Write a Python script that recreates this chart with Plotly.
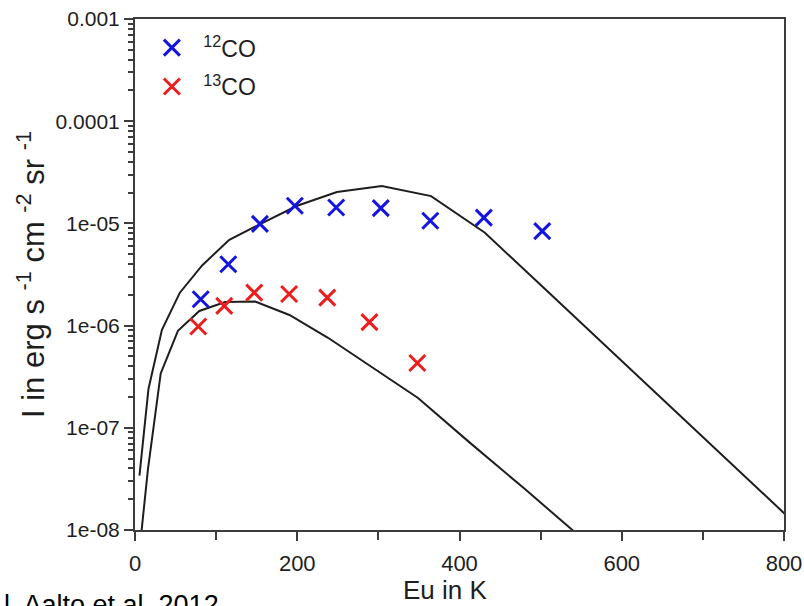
import plotly.graph_objects as go

# Observed line intensities (Eu in K, I in erg s^-1 cm^-2 sr^-1)
eu_12co = [81, 115, 154, 197, 248, 303, 364, 430, 502]
i_12co = [1.81e-6, 3.98e-6, 9.9e-6, 1.49e-5, 1.43e-5, 1.41e-5, 1.06e-5, 1.14e-5, 8.4e-6]

eu_13co = [78, 110, 147, 190, 237, 289, 348]
i_13co = [9.8e-7, 1.56e-6, 2.1e-6, 2.04e-6, 1.88e-6, 1.08e-6, 4.3e-7]

# Model ladders evaluated at the rotational level energies
eu_model_12 = [5.5, 16.6, 33.2, 55.3, 83.0, 116.2, 154.9, 199.1, 248.9, 304.2,
               365.0, 431.3, 503.1, 580.5, 663.4, 751.8, 845.6]
i_model_12 = [3.4e-8, 2.4e-7, 9.1e-7, 2.1e-6, 3.9e-6, 6.9e-6, 9.9e-6, 1.48e-5, 2.03e-5,
              2.32e-5, 1.85e-5, 8.1e-6, 2.37e-6, 6.3e-7, 1.52e-7, 3.35e-8, 6.7e-9]

eu_model_13 = [5.3, 15.9, 31.7, 52.9, 79.3, 111.1, 148.1, 190.4, 237.9, 290.8,
               348.9, 412.3, 481.0, 554.9]
i_model_13 = [6e-9, 3.9e-8, 3.4e-7, 8.9e-7, 1.39e-6, 1.70e-6, 1.72e-6, 1.27e-6, 7.6e-7,
              4.0e-7, 1.96e-7, 7.2e-8, 2.5e-8, 7.8e-9]

x_tick_vals = [0, 200, 400, 600, 800]
y_tick_vals = [1e-8, 1e-7, 1e-6, 1e-5, 1e-4, 1e-3]
y_tick_text = ["1e-08", "1e-07", "1e-06", "1e-05", "0.0001", "0.001"]
y_minor_vals = [m * 10.0 ** e for e in range(-8, -3) for m in range(2, 10)]

FONT = "Liberation Sans, Arial, Helvetica, sans-serif"
BLUE = "rgb(20,20,225)"
RED = "rgb(235,30,30)"
LINE = "rgb(30,30,30)"
AXIS = "rgb(60,60,60)"

fig = go.Figure()

fig.add_trace(go.Scatter(x=eu_model_12, y=i_model_12, mode="lines",
                         line=dict(color=LINE, width=2), showlegend=False,
                         hoverinfo="skip"))
fig.add_trace(go.Scatter(x=eu_model_13, y=i_model_13, mode="lines",
                         line=dict(color=LINE, width=2), showlegend=False,
                         hoverinfo="skip"))

fig.add_trace(go.Scatter(x=eu_12co, y=i_12co, mode="markers",
                         name="\u2002<sup>12</sup>CO", legendgroup="a",
                         marker=dict(symbol="x-thin", size=16,
                                     line=dict(color=BLUE, width=3), color=BLUE)))
fig.add_trace(go.Scatter(x=eu_13co, y=i_13co, mode="markers",
                         name="\u2002<sup>13</sup>CO", legendgroup="b",
                         marker=dict(symbol="x-thin", size=16,
                                     line=dict(color=RED, width=3), color=RED)))

fig.update_layout(
    width=804, height=606,
    margin=dict(l=135, r=20, t=19, b=76),
    paper_bgcolor="white", plot_bgcolor="white",
    font=dict(family=FONT, color="rgb(30,30,30)"),
    showlegend=True,
    legend=dict(x=0.026, y=0.986, xanchor="left", yanchor="top",
                bgcolor="rgba(0,0,0,0)", font=dict(size=23),
                traceorder="grouped", tracegroupgap=6,
                itemwidth=30),
    annotations=[
        dict(text="Eu in K", xref="paper", yref="paper", x=0.478, y=-0.084,
             xanchor="center", yanchor="top", showarrow=False,
             font=dict(size=26)),
        dict(text="l. Aalto et al. 2012", xref="paper", yref="paper",
             x=-0.205, y=-0.113, xanchor="left", yanchor="top", showarrow=False,
             font=dict(size=27, color="black")),
    ],
)

fig.update_xaxes(
    range=[0, 800], tickvals=x_tick_vals, automargin=False,
    ticks="outside", ticklen=9, tickwidth=2, tickcolor=AXIS,
    ticklabelstandoff=4,
    minor=dict(dtick=100, ticks="outside", ticklen=8, tickwidth=2, tickcolor=AXIS),
    showline=True, linewidth=2, linecolor=AXIS, mirror=True,
    showgrid=False, zeroline=False,
    tickfont=dict(size=22),
)

fig.update_yaxes(
    type="log", range=[-8, -3], automargin=False,
    tickvals=y_tick_vals, ticktext=y_tick_text,
    ticks="outside", ticklen=9, tickwidth=2, tickcolor=AXIS,
    minor=dict(tickvals=y_minor_vals, ticks="outside", ticklen=5, tickwidth=1.5,
               tickcolor=AXIS),
    showline=True, linewidth=2, linecolor=AXIS, mirror=True,
    showgrid=False, zeroline=False,
    tickfont=dict(size=21),
    title=dict(text="\u2002\u2002I in erg s <sup>-1</sup> cm <sup>-2</sup> sr <sup>-1</sup>",
               font=dict(size=31), standoff=2),
)

fig.write_html("out.html")
